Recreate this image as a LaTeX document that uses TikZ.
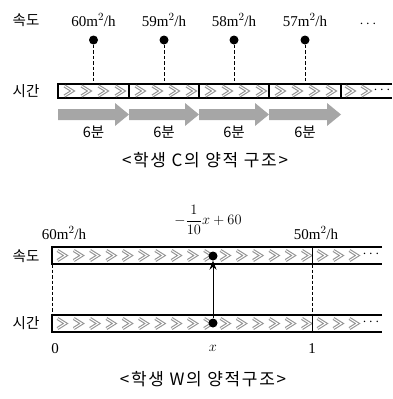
\documentclass[tikz,border=0pt]{standalone}
\usepackage{fontspec}
\setmainfont{Liberation Serif}
\newfontfamily\kr{Noto Sans CJK KR}
\usetikzlibrary{arrows.meta}
\tikzset{
  lbl/.style={font=\kr\fontsize{14.5}{14.5}\selectfont, inner sep=0},
  captxt/.style={font=\kr\fontsize{17}{17}\selectfont\addfontfeature{LetterSpace=10}, inner sep=0},
  val/.style={font=\fontsize{15}{15}\selectfont, inner sep=0},
  ball/.style={circle, fill=black, inner sep=0, minimum size=9},
  chev/.style={draw=gray!85, double=white, double distance=1pt, line width=1.1pt},
  barline/.style={draw=black, line width=1.4pt},
  garrow/.style={fill=gray!70, draw=none},
  vdash/.style={dashed, dash pattern=on 3.5pt off 2pt, line width=0.8pt},
}
\newcommand{\chv}[2]{\draw[chev] (#1-4.5,#2-5) -- (#1+3.5,#2) -- (#1-4.5,#2+5);}
\begin{document}
\begin{tikzpicture}[x=1pt,y=-1pt]
\useasboundingbox (0,0) rectangle (393,399);
% ---------- top diagram ----------
\node[lbl] (sp1) at (26,20) {속도};
\node[lbl] (tm1) at (26,91) {시간};
% bar
\draw[barline] (392,84) -- (58,84) -- (58,98) -- (392,98);
\foreach \d in {129,199,269,341} \draw[barline] (\d,84) -- (\d,98);
\foreach \s in {58,129,199,269} {
  \foreach \k in {11,28,45,62} { \chv{\s+\k}{91} }
}
\chv{350}{91} \chv{366}{91}
\node[val] (dots1) at (382,90) {$\cdots$};
% values, balls, dashed lines
\foreach \i/\x/\v in {1/93.5/60,2/164/59,3/234/58,4/305/57} {
  \node[val] (v\i) at (\x,20) {\v m$^{2}$/h};
  \node[ball] (d\i) at (\x,40) {};
  \coordinate (b\i) at (\x,84);
  \draw[vdash] (d\i) -- (b\i);
  \node[lbl] (m\i) at (\x,132) {6분};
}
\node[val] (dots0) at (368,24) {$\cdots$};
% gray arrows
\foreach \s/\e in {58/129,129/199,199/269,269/341} {
  \fill[garrow] (\s,109) -- (\e-14,109) -- (\e-14,103) -- (\e,114.5) -- (\e-14,126) -- (\e-14,120) -- (\s,120) -- cycle;
}
\node[captxt] (capC) at (205,160) {<학생 C의 양적 구조>};
% ---------- bottom diagram ----------
\node[val] (w60) at (64,233) {60m$^{2}$/h};
\node[val] (wf) at (208,220) {$\displaystyle -\frac{1}{10}x+60$};
\node[val] (w50) at (316,233) {50m$^{2}$/h};
\node[lbl] (sp2) at (26,256) {속도};
\node[lbl] (tm2) at (26,323) {시간};
\foreach \ya/\yb/\ym in {247/264/255.5,315/332/323.5} {
  \draw[barline] (382,\ya) -- (52,\ya) -- (52,\yb) -- (382,\yb);
  \foreach \k in {0,...,15} { \chv{62+16.3*\k}{\ym} }
  \chv{322}{\ym} \chv{338}{\ym} \chv{354}{\ym}
  \draw[line width=0.9pt] (312,\ya) -- (312,\yb);
}
\node[val] (dots2) at (371,254) {$\cdots$};
\node[val] (dots3) at (371,322) {$\cdots$};
\coordinate (l0t) at (52,264); \coordinate (l0b) at (52,315);
\coordinate (l1t) at (312,264); \coordinate (l1b) at (312,315);
\draw[vdash] (l0t) -- (l0b);
\draw[vdash] (l1t) -- (l1b);
\node[ball] (xt) at (213,256) {};
\node[ball] (xb) at (213,323) {};
\draw[line width=0.9pt, -{Stealth[length=9pt,width=7pt]}] (xb) -- (xt);
\node[val] (z0) at (55,349) {0};
\node[val] (zx) at (213,348) {$x$};
\node[val] (z1) at (312,349) {1};
\node[captxt] (capW) at (203,379) {<학생 W의 양적구조>};
\end{tikzpicture}
\end{document}
